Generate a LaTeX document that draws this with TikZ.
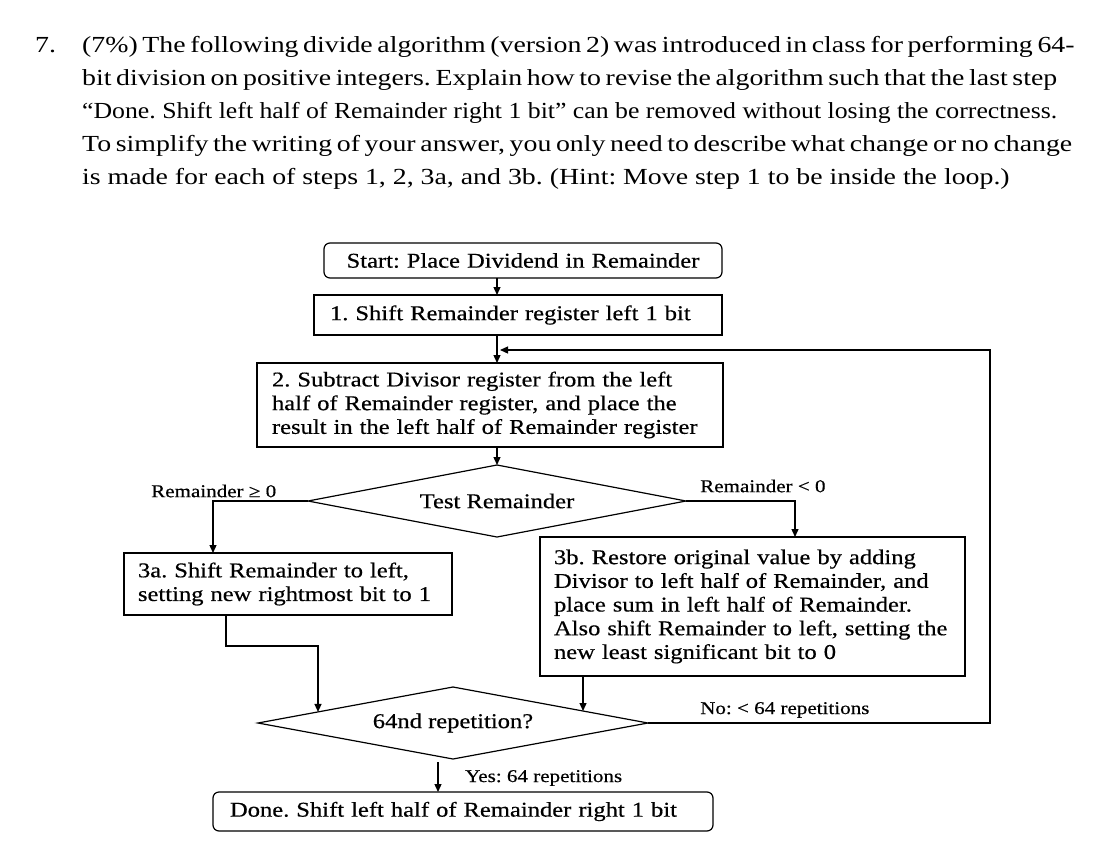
\documentclass[tikz,border=0pt]{standalone}
\usepackage{fontspec}
\setmainfont{Liberation Serif}
\newfontfamily\chartfont[FakeStretch=1.17,FakeBold=0.5]{Liberation Serif}
\newfontfamily\headfont[FakeStretch=1.21]{Liberation Serif}
\usetikzlibrary{shapes.geometric,arrows.meta,calc}
\frenchspacing
\begin{document}
\frenchspacing
\begin{tikzpicture}[x=1pt,y=-1pt,
  conn/.style={line width=1.3pt},
  arr/.style={conn,-{Triangle[length=8pt,width=7pt]}},
  stepbox/.style={draw,line width=1.2pt,inner ysep=0pt,outer sep=0pt,align=left,
    font=\chartfont\fontsize{21}{23.7}\selectfont},
  roundbox/.style={stepbox,rounded corners=6pt},
  decision/.style={draw,diamond,aspect=5,inner sep=0pt,outer sep=0pt,line width=1.2pt,
    font=\chartfont\fontsize{21}{23.7}\selectfont},
  lab/.style={inner sep=0pt,font=\chartfont\fontsize{18}{20}\selectfont},
  head/.style={anchor=base west,inner sep=0pt,font=\headfont\fontsize{23}{33}\selectfont}
]
\useasboundingbox (0,0) rectangle (1098,846);

% header text
\node[head] (num) at (35,52) {7.};
\node[head] (h1) at (82,52) {\makebox[973pt][s]{(7\%) The following divide algorithm (version 2) was introduced in class for performing 64-}};
\node[head] (h2) at (82,85) {\makebox[975pt][s]{bit division on positive integers. Explain how to revise the algorithm such that the last step}};
\node[head] (h3) at (82,118) {\resizebox{975pt}{\height}{“Done. Shift left half of Remainder right 1 bit” can be removed without losing the correctness.}};
\node[head] (h4) at (82,151) {\makebox[975pt][s]{To simplify the writing of your answer, you only need to describe what change or no change}};
\node[head] (h5) at (82,184) {is made for each of steps 1, 2, 3a, and 3b. (Hint: Move step 1 to be inside the loop.)};

% flowchart nodes
\node[roundbox,align=center,minimum width=398pt,minimum height=35pt,text width=370pt] (start) at (523,260.5) {Start: Place Dividend in Remainder};
\node[stepbox,inner xsep=16pt,text width=376pt,minimum width=408pt,minimum height=40pt] (s1) at (518,315) {1. Shift Remainder register left 1 bit};
\node[stepbox,inner xsep=15pt,text width=436pt,minimum width=466pt,minimum height=84pt] (s2) at (490,405) {2. Subtract Divisor register from the left\\half of Remainder register, and place the\\result in the left half of Remainder register};
\node[decision,minimum width=378pt,minimum height=72pt] (test) at (497,501) {Test Remainder};
\node[stepbox,inner xsep=14pt,text width=300pt,minimum width=328pt,minimum height=62pt] (s3a) at (288,584) {3a. Shift Remainder to left,\\setting new rightmost bit to 1};
\node[stepbox,inner xsep=14pt,text width=397pt,minimum width=425pt,minimum height=139pt] (s3b) at (752.5,606.5) {3b. Restore original value by adding\\Divisor to left half of Remainder, and\\place sum in left half of Remainder.\\Also shift Remainder to left, setting the\\new least significant bit to 0};
\node[decision,minimum width=390pt,minimum height=72pt] (rep) at (453,723) {64nd repetition?};
\node[roundbox,inner xsep=17pt,text width=466pt,minimum width=500pt,minimum height=39pt] (done) at (463,811.5) {Done. Shift left half of Remainder right 1 bit};

% labels
\node[lab,anchor=west] (lge) at (151,491) {Remainder ≥ 0};
\node[lab,anchor=west] (llt) at (700,486) {Remainder < 0};
\node[lab,anchor=west] (lno) at (700,710) {No: < 64 repetitions};
\node[lab,anchor=west] (lyes) at (465,778) {Yes: 64 repetitions};

% helper coordinates
\coordinate (cx) at (497,0);
\coordinate (aL) at (213,0);
\coordinate (bR) at (795,0);
\coordinate (aD) at (226,0);
\coordinate (loopR) at (990,350);
\coordinate (join) at (500,350);
\coordinate (aMid) at (226,646);
\coordinate (yesTop) at (438,762);
\coordinate (aEnd) at ($(rep.west)!0.3077!(rep.north)$);
\coordinate (bEnd) at ($(rep.east)!0.3333!(rep.north)$);

% connectors
\draw[arr] (start.south -| cx) -- (s1.north -| cx);
\draw[arr] (s1.south -| cx) -- (s2.north -| cx);
\draw[arr] (s2.south -| cx) -- (test.north);
\draw[arr] (test.west) -| (s3a.north -| aL);
\draw[arr] (test.east) -| (s3b.north -| bR);
\draw[arr] (s3a.south -| aD) -- (aMid) -| (aEnd);
\draw[arr] (bEnd |- s3b.south) -- (bEnd);
\draw[arr] (rep.east) -- (rep.east -| loopR) -- (loopR) -- (join);
\draw[arr] (yesTop) -- (done.north -| yesTop);
\end{tikzpicture}
\end{document}
